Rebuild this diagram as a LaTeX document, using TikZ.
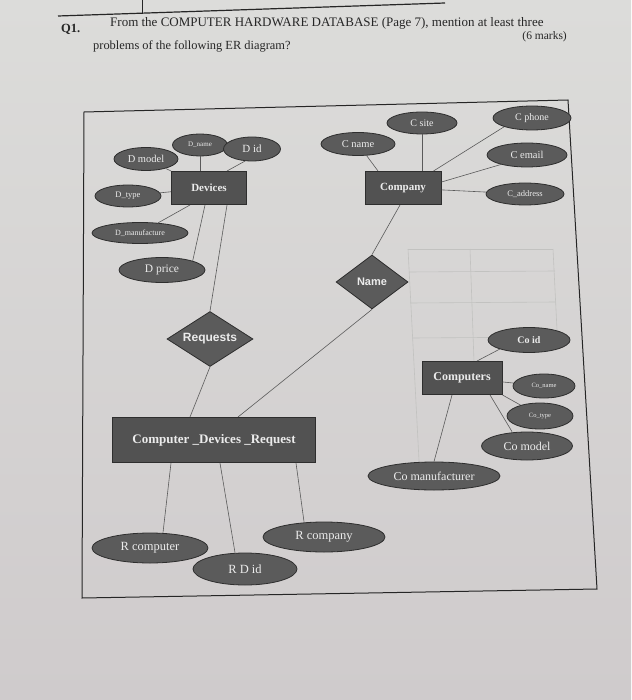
\documentclass[tikz,border=0pt]{standalone}
\usepackage{fontspec}
\setmainfont{Liberation Serif}
\newfontfamily\arialfont{Liberation Sans}
\usetikzlibrary{shapes.geometric}
\definecolor{papertop}{HTML}{DCDCDA}
\definecolor{paperbot}{HTML}{CFCBCC}
\definecolor{shapefill}{HTML}{5B5B5B}
\definecolor{rectfill}{HTML}{525252}
\definecolor{edgecol}{HTML}{2E2E2E}
\definecolor{txtcol}{HTML}{ECECEC}
\definecolor{conncol}{HTML}{5A5A5A}
\definecolor{inkcol}{HTML}{262626}
\definecolor{faintcol}{HTML}{C2C2C0}
\newcommand{\fsz}[1]{\fontsize{#1}{#1}\selectfont}
\begin{document}
\begin{tikzpicture}[x=1pt,y=-1pt,
  attr/.style={ellipse, fill=shapefill, draw=edgecol, line width=0.8pt, text=txtcol, inner sep=0pt},
  ent/.style={rectangle, fill=rectfill, draw=edgecol, line width=1pt, text=txtcol, inner sep=0pt},
  rel/.style={diamond, aspect=1.5, fill=shapefill, draw=edgecol, line width=0.8pt, text=txtcol, inner sep=0pt},
  sz/.style 2 args={minimum width=#1pt, minimum height=#2pt},
  link/.style={draw=conncol, line width=0.6pt},
  faint/.style={draw=faintcol, line width=0.6pt},
  hdr/.style={text=inkcol, inner sep=0pt}]
\useasboundingbox (0,0) rectangle (631,700);
\fill[top color=papertop, bottom color=paperbot] (0,0) rectangle (631,700);

% remains of the box above
\draw[inkcol, line width=1.2pt] (58,16) -- (445,3);
\draw[inkcol, line width=0.8pt] (142,0) -- (142,14);

% header
\node[hdr, anchor=base west, font=\bfseries\fsz{12.5}] (q1) at (61,33) {Q1.};
\node[hdr, anchor=base west, font=\fsz{13}] (qline) at (110,27) {From the COMPUTER HARDWARE DATABASE (Page 7), mention at least three};
\node[hdr, anchor=base east, font=\fsz{11.5}] (marks) at (567,40) {(6 marks)};
\node[hdr, anchor=base west, font=\fsz{12.4}] (qline2) at (93,50) {problems of the following ER diagram?};

% frame
\draw[inkcol, line width=1pt] (84,112) -- (568,100) -- (597,589) -- (82,598) -- cycle;

% faint lines showing through the paper
\draw[faint] (408,249) -- (553,249);
\draw[faint] (409,272) -- (555,271);
\draw[faint] (410,303) -- (556,302);
\draw[faint] (412,338) -- (557,337);
\draw[faint] (408,249) -- (420,480);
\draw[faint] (470,249) -- (474,362);
\draw[faint] (553,249) -- (557,330);

% Devices side
\node[ent, sz={75}{33}, font=\bfseries\fsz{11}] (devices) at (209,188) {Devices};
\node[attr, sz={64}{23}, font=\fsz{10.5}] (dmodel) at (146,159) {D model};
\node[attr, sz={55}{22}, font=\fsz{7}] (dname) at (200,145) {D\_name};
\node[attr, sz={57}{24}, font=\fsz{11}] (did) at (252,149) {D id};
\node[attr, sz={66}{22}, font=\fsz{8.5}] (dtype) at (128,196) {D\_type};
\node[attr, sz={96}{21}, font=\fsz{8}] (dmanu) at (140,233) {D\_manufacture};
\node[attr, sz={86}{25}, font=\fsz{11.5}] (dprice) at (162,270) {D price};
\node[rel, sz={86}{55}, font=\arialfont\bfseries\fsz{12}] (requests) at (210,339) {Requests};

% Company side
\node[ent, sz={76}{33}, font=\bfseries\fsz{11}] (company) at (403,188) {Company};
\node[attr, sz={74}{23}, font=\fsz{10.5}] (cname) at (358,144) {C name};
\node[attr, sz={70}{22}, font=\fsz{10}] (csite) at (422,123) {C site};
\node[attr, sz={78}{24}, font=\fsz{10}] (cphone) at (532,118) {C phone};
\node[attr, sz={80}{24}, font=\fsz{10.5}] (cemail) at (527,155) {C email};
\node[attr, sz={78}{22}, font=\fsz{8.5}] (caddr) at (525,194) {C\_address};
\node[rel, sz={72}{54}, font=\arialfont\bfseries\fsz{11}] (name) at (372,282) {Name};

% Computers side
\node[ent, sz={80}{33}, font=\bfseries\fsz{12}] (computers) at (462,378) {Computers};
\node[attr, sz={82}{25}, font=\bfseries\fsz{10}] (coid) at (529,340) {Co id};
\node[attr, sz={62}{24}, font=\fsz{6.5}] (coname) at (544,386) {Co\_name};
\node[attr, sz={66}{26}, font=\fsz{6.5}] (cotype) at (540,416) {Co\_type};
\node[attr, sz={91}{28}, font=\fsz{12}] (comodel) at (527,446) {Co model};
\node[attr, sz={132}{28}, font=\fsz{12}] (comanu) at (434,476) {Co manufacturer};

% Request entity
\node[ent, sz={203}{45}, font=\bfseries\fsz{13}] (cdr) at (214,440) {Computer \_Devices \_Request};
\node[attr, sz={116}{30}, font=\fsz{12.5}] (rcomp) at (150,548) {R computer};
\node[attr, sz={104}{32}, font=\fsz{12.5}] (rdid) at (245,569) {R D id};
\node[attr, sz={122}{30}, font=\fsz{12.5}] (rcompany) at (324,537) {R company};

% connectors: Devices
\draw[link] (dmodel) -- (devices.north west);
\draw[link] (dname.south) -- (dname.south |- devices.north);
\draw[link] (did.240) -- ([xshift=-20pt]devices.north east);
\draw[link] (dtype) -- (devices);
\draw[link] (dmanu) -- ([xshift=-19pt]devices.south);
\draw[link] (dprice.north east) -- ([xshift=-4pt]devices.south);
\draw[link] ([xshift=18pt]devices.south) -- (requests.north);
\draw[link] (requests.south) -- ([xshift=-24pt]cdr.north);

% connectors: Company
\draw[link] (cname) -- ([xshift=-25pt]company.north);
\draw[link] (csite.south) -- (csite.south |- company.north);
\draw[link] (cphone.south west) -- ([xshift=-8pt]company.north east);
\draw[link] (cemail.200) -- ([yshift=6pt]company.east);
\draw[link] (caddr) -- (company);
\draw[link] ([xshift=-3pt]company.south) -- (name.north);
\draw[link] (name.south) -- ([xshift=24pt]cdr.north);

% connectors: Computers
\draw[link] (coid.south west) -- ([xshift=15pt]computers.north);
\draw[link] (coname) -- (computers);
\draw[link] (cotype) -- (computers.south east);
\draw[link] ([xshift=-15pt]comodel.north) -- ([xshift=28pt]computers.south);
\draw[link] (comanu.north) -- ([xshift=-10pt]computers.south);

% connectors: Request
\draw[link] ([xshift=-43pt]cdr.south) -- ([xshift=13pt]rcomp.north);
\draw[link] ([xshift=6pt]cdr.south) -- ([xshift=-10pt]rdid.north);
\draw[link] ([xshift=82pt]cdr.south) -- ([xshift=-20pt]rcompany.north);
\end{tikzpicture}
\end{document}
